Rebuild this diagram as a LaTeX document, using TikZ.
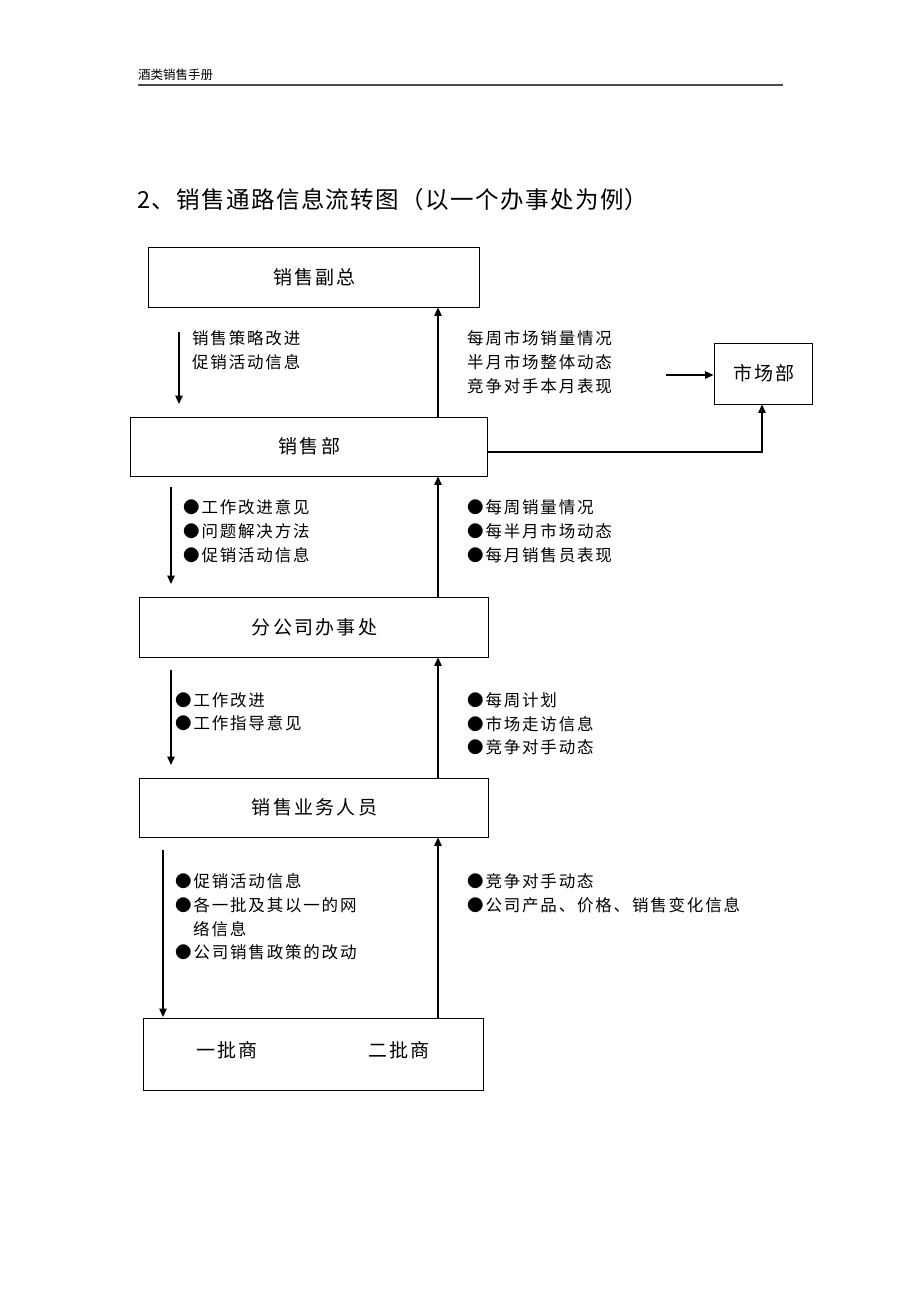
\documentclass[tikz,border=0pt]{standalone}
\usepackage{fontspec}
\setmainfont{Noto Sans CJK SC}
\newfontfamily\notefont[LetterSpace=11]{Noto Sans CJK SC}
\newfontfamily\boxfont[LetterSpace=12]{Noto Sans CJK SC}
\newfontfamily\titlefont[LetterSpace=6]{Noto Sans CJK SC}
\usetikzlibrary{arrows.meta}
\begin{document}
\begin{tikzpicture}[x=1pt,y=-1pt,
  box/.style={draw, line width=0.9pt, inner sep=0pt, font=\boxfont\fontsize{19}{22}\selectfont},
  arr/.style={line width=1.2pt, -{Triangle[length=8.5pt,width=7.5pt]}},
  note/.style={anchor=north west, align=left, inner sep=0pt, font=\notefont\fontsize{16.5}{23.9}\selectfont}]
\useasboundingbox[fill=white] (0,0) rectangle (920,1302);
% header
\node[anchor=west, inner sep=0pt, font=\fontsize{12.5}{14}\selectfont] (hdr) at (138,75) {酒类销售手册};
\coordinate (hl) at (138,85);
\coordinate (hr) at (783,85);
\draw[line width=1.3pt, black!70] (hl) -- (hr);
% title
\node[anchor=west, inner sep=0pt, font=\titlefont\fontsize{23.5}{26}\selectfont] (title) at (137,200) {2、销售通路信息流转图（以一个办事处为例）};
% boxes
\node[box, minimum width=331pt, minimum height=60pt] (vp) at (313.5,277) {\hspace*{2pt}销售副总};
\node[box, minimum width=357pt, minimum height=59pt] (sd) at (308.5,446.5) {\hspace*{2pt}销售部};
\node[box, minimum width=98pt, minimum height=61pt] (mk) at (763,373.5) {\hspace*{2pt}市场部};
\node[box, minimum width=349pt, minimum height=60pt] (br) at (313.5,627) {\hspace*{2pt}分公司办事处};
\node[box, minimum width=349pt, minimum height=59pt] (sp) at (313.5,807.5) {\hspace*{2pt}销售业务人员};
\node[box, minimum width=340pt, minimum height=72pt] (dl) at (313,1054) {};
\node[inner sep=0pt, font=\boxfont\fontsize{19}{22}\selectfont] (d1) at (227,1050) {一批商};
\node[inner sep=0pt, font=\boxfont\fontsize{19}{22}\selectfont] (d2) at (399,1050) {二批商};
% x references
\coordinate (xu) at (438,0);
% level 1
\coordinate (a1s) at (179,332);
\coordinate (a1e) at (179,404);
\draw[arr] (a1s) -- (a1e);
\draw[arr] (sd.north -| xu) -- (vp.south -| xu);
\node[note] (t1) at (192,330) {销售策略改进\\促销活动信息};
\node[note] (t2) at (467,330) {每周市场销量情况\\半月市场整体动态\\竞争对手本月表现};
\coordinate (mks) at (666,375);
\draw[arr] (mks) -- (mk.west |- mks);
\coordinate (corner) at (762,452);
\draw[arr] (sd.east |- corner) -- (corner) -- (mk.south -| corner);
% level 2
\coordinate (a2s) at (171,487);
\coordinate (a2e) at (171,584);
\draw[arr] (a2s) -- (a2e);
\draw[arr] (br.north -| xu) -- (sd.south -| xu);
\node[note] (t3) at (183,499.5) {●工作改进意见\\●问题解决方法\\●促销活动信息};
\node[note] (t4) at (467,499.5) {●每周销量情况\\●每半月市场动态\\●每月销售员表现};
% level 3
\coordinate (a3s) at (171,670);
\coordinate (a3e) at (171,765);
\draw[arr] (a3s) -- (a3e);
\draw[arr] (sp.north -| xu) -- (br.south -| xu);
\node[note] (t5) at (175,692) {●工作改进\\●工作指导意见};
\node[note] (t6) at (467,692) {●每周计划\\●市场走访信息\\●竞争对手动态};
% level 4
\coordinate (a4s) at (163,850);
\coordinate (a4e) at (163,1017);
\draw[arr] (a4s) -- (a4e);
\draw[arr] (dl.north -| xu) -- (sp.south -| xu);
\node[note] (t7) at (175,873) {●促销活动信息\\●各一批及其以一的网\\\hspace*{18pt}络信息\\●公司销售政策的改动};
\node[note] (t8) at (467,873) {●竞争对手动态\\●公司产品、价格、销售变化信息};
\end{tikzpicture}
\end{document}
